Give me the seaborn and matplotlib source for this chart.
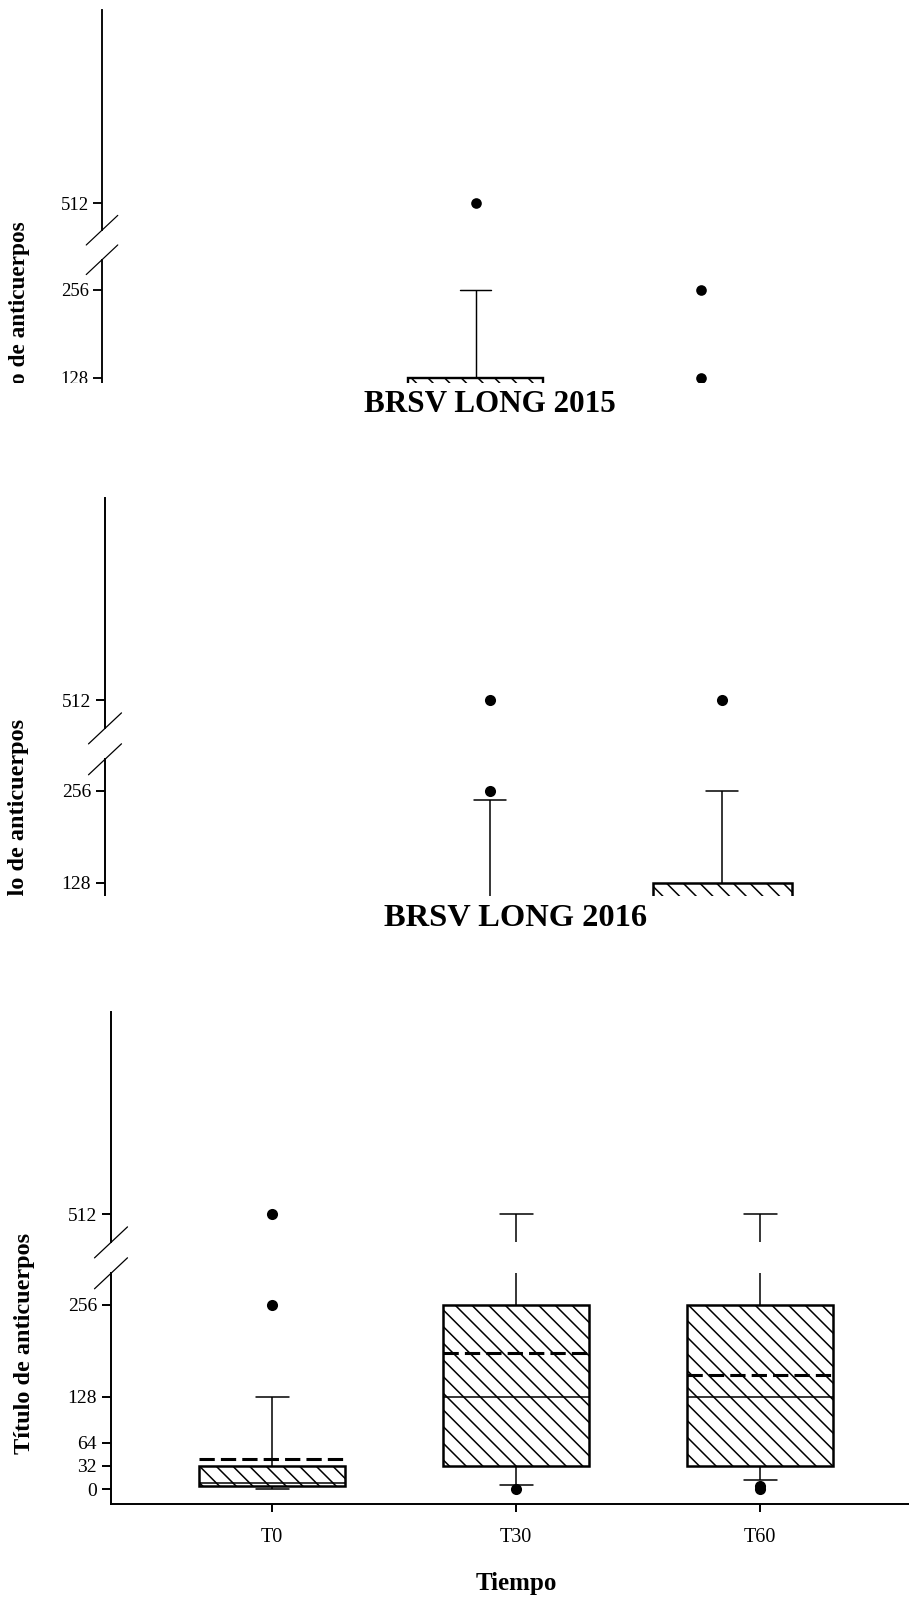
import numpy as np
import pandas as pd
import matplotlib
matplotlib.use("Agg")
import matplotlib.pyplot as plt
from matplotlib.patches import Rectangle
import seaborn as sns

# ---------------------------------------------------------------- data
times = ["T0", "T30", "T60"]

# five-number summaries per sampling time:
# lower whisker, Q1, median, Q3, upper whisker
top_box = [[0, 4, 8, 16, 64], [4, 16, 32, 128, 256], [0, 8, 16, 32, 64]]
top_mean = [20, 80, 30]
top_out_time = ["T30", "T60", "T60"]
top_out_val = [512, 256, 128]

box_2015 = [[0, 4, 8, 32, 64], [4, 16, 32, 64, 243], [4, 32, 64, 128, 256]]
mean_2015 = [25, 80, 90]
out_time_2015 = ["T30", "T30", "T60"]
out_val_2015 = [512, 256, 512]

box_2016 = [[0, 4, 8, 32, 128], [6, 32, 128, 256, 512], [12, 32, 128, 256, 512]]
mean_2016 = [42, 189, 158]
out_time_2016 = ["T0", "T0", "T30", "T60", "T60"]
out_val_2016 = [256, 512, 0, 0, 4]

ticks_low = [0, 32, 64, 128, 256]
ticks_high = [512]
low_range = (-21, 300)
high_range = (473, 793)
break_gap = 43          # value units skipped between the two y segments

y_label = "Título de anticuerpos"
x_label = "Tiempo"

# ---------------------------------------------------------------- style
sns.set_theme(style="white", rc={
    "text.color": "black", "axes.labelcolor": "black",
    "xtick.color": "black", "ytick.color": "black",
    "axes.edgecolor": "black",
})
plt.rcParams["font.family"] = ["Liberation Serif", "DejaVu Serif"]
plt.rcParams["hatch.linewidth"] = 1.1
plt.rcParams["hatch.color"] = "black"

W, H = 909, 1600
fig = plt.figure(figsize=(W / 100, H / 100), dpi=100, facecolor="white")


def frac(x, top, w, h):
    return [x / W, 1 - (top + h) / H, w / W, h / H]


def draw_panel(box, means, out_t, out_v, spine_x, spacing, y0, s, z,
               crop=None, title=None, title_size=22, show_x=False):
    f = s / 0.719
    ax_w = 3.32 * spacing
    low_top = y0 - low_range[1] * s
    low_h = (low_range[1] - low_range[0]) * s
    up_bottom = y0 - (low_range[1] + break_gap) * s
    up_h = (high_range[1] - high_range[0]) * s
    up_top = up_bottom - up_h

    ax_low = fig.add_axes(frac(spine_x, low_top, ax_w, low_h))
    ax_up = fig.add_axes(frac(spine_x, up_top, ax_w, up_h))

    df = pd.DataFrame({"time": np.repeat(times, 5),
                       "titer": np.concatenate(box)})
    outl = pd.DataFrame({"time": out_t, "titer": out_v})
    pos = np.arange(len(times))

    for ax, lim in ((ax_low, low_range), (ax_up, high_range)):
        ax.set_zorder(z)
        sns.boxplot(data=df, x="time", y="titer", order=times, color="white",
                    saturation=1, linecolor="black", linewidth=1.1 * f,
                    width=0.6, whis=(0, 100), capwidths=0.135,
                    showfliers=False, boxprops={"linewidth": 1.8 * f}, ax=ax)
        for p in ax.patches:
            p.set_hatch("\\\\")
        ax.hlines(means, pos - 0.3, pos + 0.3, colors="black",
                  linewidth=2.2 * f, linestyles=(0, (5, 2)), zorder=4)
        sns.stripplot(data=outl, x="time", y="titer", order=times,
                      jitter=False, color="black", size=8 * f, linewidth=0,
                      ax=ax, zorder=5)
        ax.set_xlim(-0.66, 2.66)
        ax.set_ylim(*lim)
        ax.set_xlabel("")
        ax.set_ylabel("")
        for side in ("top", "right"):
            ax.spines[side].set_visible(False)
        ax.spines["left"].set_linewidth(1.4 * f)
        ax.spines["bottom"].set_linewidth(1.4 * f)
        ax.tick_params(axis="y", left=True, direction="out", length=6.5 * f,
                       width=1.4 * f, pad=3.5 * f, labelsize=14 * f)

    ax_low.set_yticks(ticks_low)
    ax_up.set_yticks(ticks_high)
    ax_up.spines["bottom"].set_visible(False)
    ax_up.tick_params(axis="x", bottom=False, labelbottom=False)
    ax_low.tick_params(axis="x", bottom=True, direction="out", length=6 * f,
                       width=1.4 * f, pad=11.5 * f, labelsize=14.5 * f)

    # axis-break marks
    dx = 16.5 * f / ax_w
    ax_up.plot([-dx, dx], [-15.5 * f / up_h, 15.5 * f / up_h],
               transform=ax_up.transAxes, color="black", lw=0.9 * f,
               clip_on=False)
    ax_low.plot([-dx, dx], [1 - 15.5 * f / low_h, 1 + 15.5 * f / low_h],
                transform=ax_low.transAxes, color="black", lw=0.9 * f,
                clip_on=False)

    y512 = up_bottom - (ticks_high[0] - high_range[0]) * s
    fig.text((spine_x - 86 * f) / W, 1 - (y512 + 129 * f) / H, y_label,
             rotation=90, ha="center", va="center", fontsize=17.5 * f,
             fontweight="bold", zorder=z + 1)

    cx = spine_x + ax_w / 2
    if title is not None:
        fig.text(cx / W, 1 - (up_top - 86.5) / H, title, ha="center",
                 va="baseline", fontsize=title_size, fontweight="bold",
                 zorder=z + 6)
    if show_x:
        fig.text(cx / W, 1 - (y0 + 101) / H, x_label, ha="center",
                 va="baseline", fontsize=18, fontweight="bold", zorder=z + 1)
    if crop is not None:
        fig.add_artist(Rectangle((0, 0), 1, 1 - crop / H,
                                 transform=fig.transFigure, facecolor="white",
                                 edgecolor="none", zorder=z + 5))


draw_panel(top_box, top_mean, top_out_time, top_out_val,
           spine_x=102, spacing=225, y0=466, s=0.6875, z=10, crop=383)
draw_panel(box_2015, mean_2015, out_time_2015, out_val_2015,
           spine_x=105, spacing=232, y0=975, s=0.719, z=20, crop=896,
           title="BRSV LONG 2015", title_size=22.4)
draw_panel(box_2016, mean_2016, out_time_2016, out_val_2016,
           spine_x=111, spacing=244, y0=1489, s=0.719, z=30,
           title="BRSV LONG 2016", title_size=23.4, show_x=True)

fig.savefig("out.png", dpi=100, facecolor="white")
